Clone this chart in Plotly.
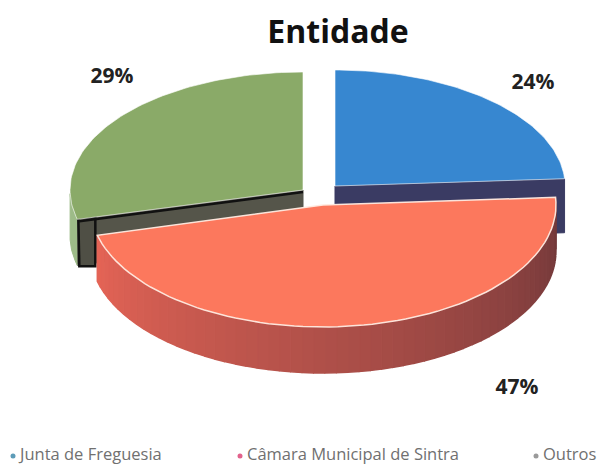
import numpy as np
import plotly.graph_objects as go

labels = ["Junta de Freguesia", "Câmara Municipal de Sintra", "Outros"]
values = [24, 47, 29]
pct_labels = ["24%", "47%", "29%"]
title = "Entidade"

top_colors = ["#3787d0", "#fc785d", "#8aaa68"]
legend_colors = ["#5d9cb8", "#e2628c", "#9a9a9a"]

W, H = 598, 466
depth = 46

# slice geometry in pixels: centre x, centre y, radius x, radius y
geom = [
    (335, 186, 230, 116),
    (323, 205, 233, 122),
    (303, 190, 233, 118),
]
label_pos = [(533, 84), (517, 389), (112, 78)]
legend_x = [13, 240, 536]
legend_y = 456

total = sum(values)
stops = np.cumsum([0] + values) / total * 2 * np.pi

fig = go.Figure()


def arc(g, a0, a1, n=80):
    t = np.linspace(a0, a1, n)
    return g[0] + g[2] * np.sin(t), g[1] - g[3] * np.cos(t)


def wedge(i, color, line="rgba(255,255,255,0.6)", width=1):
    g = geom[i]
    x, y = arc(g, stops[i], stops[i + 1])
    x = np.r_[g[0], x, g[0]]
    y = np.r_[g[1], y, g[1]]
    fig.add_trace(go.Scatter(x=x, y=y, mode="lines", fill="toself", fillcolor=color,
                             line=dict(color=line, width=width), hoverinfo="skip"))


def cut_side(i, a, color, d):
    # flat wall along a cut edge of the slice
    g = geom[i]
    ex, ey = arc(g, a, a, 1)
    x = [g[0], ex[0], ex[0], g[0], g[0]]
    y = [g[1], ey[0], ey[0] + d, g[1] + d, g[1]]
    fig.add_trace(go.Scatter(x=x, y=y, mode="lines", fill="toself", fillcolor=color,
                             line=dict(color=color, width=1), hoverinfo="skip"))


# back walls first, the red slice covers most of them
cut_side(0, stops[1], "#3a3b63", depth + 8)
cut_side(2, stops[2], "#55554a", depth)

# pale outer rim of the green slice, left of the dark block
g = geom[2]
x0, y0 = arc(g, stops[2], stops[2] + 0.22, 12)
fig.add_trace(go.Scatter(x=np.r_[x0, x0[::-1]], y=np.r_[y0, y0[::-1] + depth], mode="lines",
                         fill="toself", fillcolor="#9dbb88",
                         line=dict(color="#9dbb88", width=1), hoverinfo="skip"))

ex, ey = arc(g, stops[2], stops[2], 1)
fig.add_trace(go.Scatter(x=[ex[0] + 1, ex[0] + 2, ex[0] + 18, ex[0] + 18, ex[0] + 1],
                         y=[ey[0] - 2, ey[0] + 47, ey[0] + 47, ey[0] - 2, ey[0] - 2],
                         mode="lines", fill="toself", fillcolor="#4f4f45",
                         line=dict(color="#111111", width=2.5), hoverinfo="skip"))
fig.add_trace(go.Scatter(x=[g[0], ex[0] + 2], y=[g[1] + 2, ey[0] + 2], mode="lines",
                         line=dict(color="#111111", width=2.5), hoverinfo="skip"))
wedge(0, top_colors[0])
wedge(2, top_colors[2])

# red rim, strips shaded from dark right to bright left
g = geom[1]
t = np.linspace(stops[1], stops[2], 61)
for k in range(60):
    x0, y0 = arc(g, t[k], t[k + 1], 4)
    x = np.r_[x0, x0[::-1]]
    y = np.r_[y0, y0[::-1] + depth]
    f = k / 59
    c = (int(112 + f * 116), int(56 + f * 44), int(58 + f * 28))
    col = "rgb(%d,%d,%d)" % c
    fig.add_trace(go.Scatter(x=x, y=y, mode="lines", fill="toself", fillcolor=col,
                             line=dict(color=col, width=1.5), hoverinfo="skip"))
wedge(1, top_colors[1], line="rgba(255,235,225,0.95)", width=1.5)

fig.add_trace(go.Scatter(x=[p[0] for p in label_pos], y=[p[1] for p in label_pos],
                         mode="text", text=pct_labels, hoverinfo="skip",
                         textfont=dict(family="Open Sans", size=21, color="#222222", weight="bold")))

fig.add_trace(go.Scatter(x=legend_x, y=[legend_y] * 3, mode="markers", hoverinfo="skip",
                         marker=dict(size=5, color=legend_colors)))
fig.add_trace(go.Scatter(x=[v + 7 for v in legend_x], y=[legend_y] * 3, mode="text",
                         text=labels, textposition="middle right", hoverinfo="skip",
                         textfont=dict(family="Open Sans", size=16.5, color="#707070")))

fig.update_layout(
    width=W,
    height=H,
    margin=dict(l=0, r=0, t=0, b=0),
    paper_bgcolor="white",
    plot_bgcolor="white",
    showlegend=False,
    title=dict(text="<b>" + title + "</b>", x=338 / W, xanchor="center", y=1 - 32 / H, yanchor="middle",
               font=dict(family="Open Sans", size=32, color="#111111")),
    xaxis=dict(range=[0, W], visible=False, fixedrange=True),
    yaxis=dict(range=[H, 0], visible=False, fixedrange=True),
)

# the page's default body margin would push the figure 8px in
fig.write_html("out.html", config={"displayModeBar": False},
               post_script="document.body.style.margin='0';")
